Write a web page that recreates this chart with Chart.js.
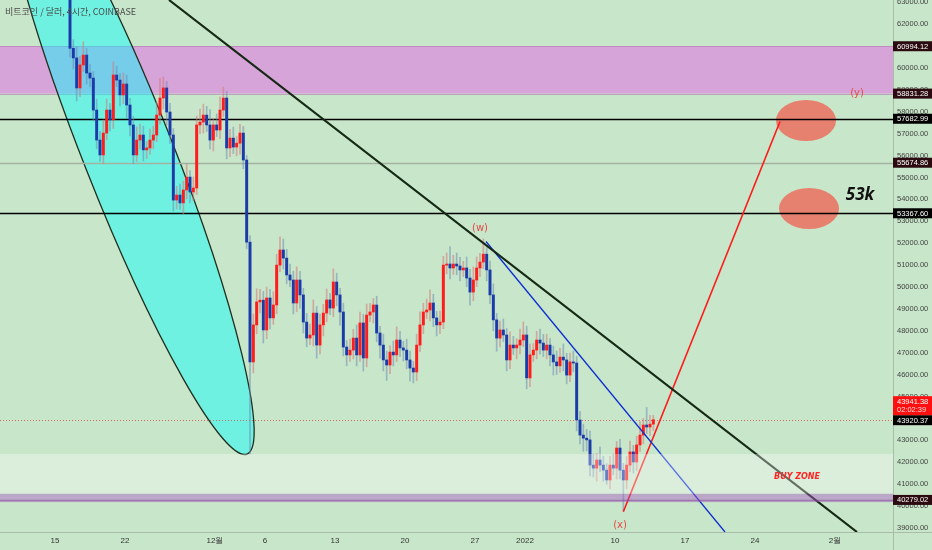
<!DOCTYPE html>
<html>
<head>
<meta charset="utf-8">
<script src="https://cdn.jsdelivr.net/npm/chart.js@4.4.1/dist/chart.umd.min.js"></script>
<style>
  html, body { margin: 0; padding: 0; background: #c8e6c9; }
  #wrap { width: 932px; height: 550px; }
</style>
</head>
<body>
<div id="wrap"><canvas id="btcChart" width="932" height="550"></canvas></div>
<script>
// 8h candles, x axis = days since 2021-11-01 00:00
var firstCandleDay = 14;      // Nov 15
var candleDays = 1 / 3;
var firstOpen = 64500;

var closes = [
  64900, 65400, 64800, 63700, 60900, 60460, 59090, 60140, 60590, 59770,
  59540, 58080, 56710, 56030, 57030, 58080, 57630, 59680, 59450, 58770,
  59270, 58310, 57400, 56030, 56710, 56940, 56260, 56350, 56710, 56940,
  57850, 58630, 59090, 57990, 56940, 53970, 54200, 53840, 54430, 55020,
  54340, 54520, 57400, 57530, 57850, 57400, 56710, 57400, 57170, 58080,
  58630, 56350, 56800, 56390, 56570, 57030, 55800, 52050, 46580, 48270,
  49320, 49400, 48040, 49500, 48590, 49180, 51000, 51690, 51320, 50550,
  50320, 49270, 50320, 49640, 48400, 47670, 47810, 48810, 47350, 48270,
  48810, 49410, 49040, 50230, 49640, 48860, 47260, 46900, 47120, 47670,
  46900, 48360, 46760, 48720, 48860, 49180, 47900, 47350, 46670, 46440,
  47030, 46900, 47580, 47220, 47120, 46670, 46300, 46120, 47350, 48270,
  48860, 48950, 49270, 48590, 48270, 48400, 51000, 51050, 50870, 51050,
  50960, 50780, 50870, 50410, 49770, 50320, 50870, 51140, 51500, 50780,
  49640, 48500, 47670, 48040, 47810, 46670, 47350, 47220, 47350, 47580,
  47810, 45850, 46900, 47120, 47580, 47440, 47120, 47350, 46900, 46580,
  46400, 46800, 46670, 45980, 46580, 46530, 43930, 43240, 43100, 43020,
  41870, 41730, 42100, 41870, 41640, 41190, 41870, 41730, 42650, 41640,
  41190, 41870, 42470, 42010, 42790, 43240, 43700, 43610, 43740, 43941.38
];
// wick lengths in hundreds of USD
var upWicks = [
  5,6,4,3,2,4,5,4,6,3, 4,3,5,4,6,5,3,6,4,3, 5,4,3,4,6,5,4,3,5,4,
  6,9,5,3,4,3,4,5,4,6, 3,5,4,6,5,4,7,3,5,6, 5,3,4,5,3,4,3,2,3,5,
  6,5,4,5,4,6,5,6,5,4, 5,4,6,4,3,4,5,6,3,5, 4,5,3,6,4,3,4,3,5,4,
  6,5,4,5,4,3,4,3,5,4, 3,5,6,4,3,5,4,3,5,6, 4,5,6,4,3,5,4,5,8,4,
  5,4,3,5,4,6,5,4,7,3, 4,5,3,4,5,3,6,4,3,5, 6,4,5,3,4,5,4,5,3,4,
  5,4,6,3,4,5,3,4,5,4, 4,5,3,6,4,3,4,5,3,4, 3,4,5,3,4,6,3,8,4,2
];
var downWicks = [
  4,5,6,5,4,5,6,4,3,5, 4,5,4,3,4,3,5,4,3,5, 4,6,5,4,3,4,5,4,3,4,
  3,4,5,6,4,5,4,3,5,4, 5,4,3,4,5,3,4,5,3,4, 3,5,4,3,4,5,4,3,42,5,
  4,5,6,4,5,3,4,3,5,4, 3,5,4,6,5,4,3,5,6,4, 5,4,3,4,5,6,4,5,3,4,
  5,3,6,4,3,5,4,6,5,7, 4,5,3,4,5,4,6,5,4,3, 4,3,5,4,5,4,3,4,5,3,
  4,5,3,4,6,4,3,4,3,5, 4,5,6,4,3,5,4,3,5,4, 3,5,4,3,4,5,3,4,5,6,
  4,3,5,4,3,4,5,4,6,5, 5,4,6,3,5,2,4,3,5,4, 14,4,3,5,4,3,4,3,4,3
];

var priceTicks = [39000, 40000, 41000, 42000, 43000, 44000, 45000, 46000, 47000, 48000,
  49000, 50000, 51000, 52000, 53000, 54000, 55000, 56000, 57000, 58000, 59000, 60000,
  61000, 62000, 63000];
var dateTickDays = [14, 21, 30, 35, 42, 49, 56, 61, 70, 77, 84, 92];
var dateTickLabels = ['15', '22', '12월', '6', '13', '20', '27', '2022', '10', '17', '24', '2월'];

var pinkZone = [58831.28, 60994.12];
var buyZone = [40560, 42375];
var supportZone = [40180, 40560];
var supportLevel = 40279.02;
var blackLevels = [57682.99, 53367.60];
var grayLevel = 55674.86;
var lastClose = 43920.37;
var lastPrice = 43941.38;

var downTrend = [{x: 25.4, y: 63105}, {x: 94.2, y: 38815}];
var wTrend = [{x: 57.1, y: 52078}, {x: 81.0, y: 38814}];
var projection = [{x: 70.83, y: 39741}, {x: 86.5, y: 57557}];
var targets = [{x: 89.1, y: 57603}, {x: 89.4, y: 53585}];
var channelCenter = {x: 21.35, y: 56073};
var channelTip = {x: 33.2, y: 42375};

var waveLabels = [
  {text: '(w)', x: 56.5, y: 52694},
  {text: '(x)', x: 70.5, y: 39097},
  {text: '(y)', x: 94.2, y: 58858}
];

var opens = closes.map(function (c, i) { return i === 0 ? firstOpen : closes[i - 1]; });
var xs = closes.map(function (c, i) { return firstCandleDay + (i + 0.5) * candleDays; });
var bodies = closes.map(function (c, i) { return {x: xs[i], y: [opens[i], c]}; });
var wicks = closes.map(function (c, i) {
  return {x: xs[i], y: [Math.min(opens[i], c) - downWicks[i] * 100, Math.max(opens[i], c) + upWicks[i] * 100]};
});
var bodyColors = closes.map(function (c, i) { return c >= opens[i] ? '#ff1c1c' : '#1b3ca8'; });
var wickColors = closes.map(function (c, i) {
  return c >= opens[i] ? 'rgba(210,120,120,0.55)' : 'rgba(110,140,180,0.55)';
});

function hline(chart, value, color, width, dash) {
  var ctx = chart.ctx, a = chart.chartArea;
  var y = Math.round(chart.scales.y.getPixelForValue(value)) + 0.5;
  ctx.save();
  ctx.strokeStyle = color;
  ctx.lineWidth = width;
  ctx.setLineDash(dash || []);
  ctx.beginPath();
  ctx.moveTo(a.left, y);
  ctx.lineTo(a.right, y);
  ctx.stroke();
  ctx.restore();
}

function band(chart, lo, hi, color) {
  var a = chart.chartArea, sy = chart.scales.y;
  var top = sy.getPixelForValue(hi), bottom = sy.getPixelForValue(lo);
  chart.ctx.fillStyle = color;
  chart.ctx.fillRect(a.left, top, a.right - a.left, bottom - top);
}

var drawings = {
  id: 'drawings',
  beforeDraw: function (chart) {
    var ctx = chart.ctx;
    ctx.save();
    ctx.fillStyle = '#c8e6c9';
    ctx.fillRect(0, 0, chart.width, chart.height);
    ctx.restore();
  },
  beforeDatasetsDraw: function (chart) {
    var ctx = chart.ctx, a = chart.chartArea, sx = chart.scales.x, sy = chart.scales.y;
    ctx.save();
    ctx.beginPath();
    ctx.rect(a.left, a.top, a.right - a.left, a.bottom - a.top);
    ctx.clip();

    band(chart, pinkZone[0], pinkZone[1], 'rgba(225,110,230,0.55)');
    hline(chart, pinkZone[1], 'rgba(170,100,170,0.5)', 1);
    hline(chart, pinkZone[0], 'rgba(170,100,170,0.5)', 1);

    // falling channel ellipse
    var cx = sx.getPixelForValue(channelCenter.x), cy = sy.getPixelForValue(channelCenter.y);
    var tx = sx.getPixelForValue(channelTip.x), ty = sy.getPixelForValue(channelTip.y);
    ctx.beginPath();
    ctx.ellipse(cx, cy, Math.hypot(tx - cx, ty - cy), 45, Math.atan2(ty - cy, tx - cx), 0, Math.PI * 2);
    ctx.fillStyle = 'rgba(0,255,255,0.45)';
    ctx.fill();
    ctx.lineWidth = 1.3;
    ctx.strokeStyle = '#1f2f1f';
    ctx.stroke();

    // target circles
    ctx.fillStyle = 'rgba(242,95,80,0.75)';
    targets.forEach(function (t) {
      ctx.beginPath();
      ctx.ellipse(sx.getPixelForValue(t.x), sy.getPixelForValue(t.y), 30, 20.5, 0, 0, Math.PI * 2);
      ctx.fill();
    });

    hline(chart, grayLevel, '#a2b3a2', 1.5);
    blackLevels.forEach(function (v) { hline(chart, v, '#000000', 1.5); });
    hline(chart, lastClose, 'rgba(220,80,80,0.8)', 1, [1, 2]);
    ctx.restore();
  },
  afterDatasetsDraw: function (chart) {
    var ctx = chart.ctx, a = chart.chartArea, sx = chart.scales.x, sy = chart.scales.y;
    ctx.save();
    ctx.beginPath();
    ctx.rect(a.left, a.top, a.right - a.left, a.bottom - a.top);
    ctx.clip();
    band(chart, buyZone[0], buyZone[1], 'rgba(255,255,255,0.33)');
    band(chart, supportZone[0], supportZone[1], 'rgba(170,90,200,0.45)');
    hline(chart, supportLevel, 'rgba(120,60,140,0.45)', 1.5);

    ctx.textAlign = 'center';
    ctx.textBaseline = 'middle';
    ctx.fillStyle = '#e84848';
    ctx.font = '10px "DejaVu Sans"';
    waveLabels.forEach(function (l) {
      ctx.fillText(l.text, sx.getPixelForValue(l.x), sy.getPixelForValue(l.y));
    });
    ctx.fillStyle = '#111';
    ctx.font = 'italic bold 17px "Open Sans"';
    ctx.fillText('53k', sx.getPixelForValue(94.5), sy.getPixelForValue(54200));
    ctx.fillStyle = '#ff2424';
    ctx.font = 'italic bold 8px "DejaVu Sans"';
    ctx.fillText('BUY ZONE', sx.getPixelForValue(88.2), sy.getPixelForValue(41325));
    ctx.restore();
  },
  afterDraw: function (chart) {
    var ctx = chart.ctx, a = chart.chartArea, sy = chart.scales.y;
    ctx.save();
    ctx.strokeStyle = '#a9bba9';
    ctx.lineWidth = 1;
    ctx.beginPath();
    ctx.moveTo(a.right + 0.5, 0);
    ctx.lineTo(a.right + 0.5, chart.height);
    ctx.moveTo(0, a.bottom + 0.5);
    ctx.lineTo(chart.width, a.bottom + 0.5);
    ctx.stroke();

    // price tags on the axis
    var tags = [
      {v: pinkZone[1], bg: '#2b0b0f'}, {v: pinkZone[0], bg: '#2b0b0f'},
      {v: blackLevels[0], bg: '#000'}, {v: grayLevel, bg: '#2b0b0f'},
      {v: blackLevels[1], bg: '#000'}, {v: lastClose, bg: '#000'},
      {v: supportLevel, bg: '#2b0b0f'}
    ];
    ctx.font = '7.5px "Liberation Sans"';
    ctx.textAlign = 'left';
    ctx.textBaseline = 'middle';
    tags.forEach(function (t) {
      var y = sy.getPixelForValue(t.v);
      ctx.fillStyle = t.bg;
      ctx.fillRect(a.right, y - 5, chart.width - a.right, 10);
      ctx.fillStyle = '#ffffff';
      ctx.fillText(t.v.toFixed(2), a.right + 4, y + 0.5);
    });
    var ly = sy.getPixelForValue(lastClose) - 5;
    ctx.fillStyle = '#ff1010';
    ctx.fillRect(a.right, ly - 19, chart.width - a.right, 19);
    ctx.fillStyle = '#ffffff';
    ctx.fillText(lastPrice.toFixed(2), a.right + 4, ly - 13.5);
    ctx.fillStyle = '#ffd8d8';
    ctx.fillText('02:02:39', a.right + 4, ly - 5);

    ctx.fillStyle = '#4a4a4a';
    ctx.font = '9px "Noto Sans CJK KR"';
    ctx.fillText('비트코인 / 달러, 4시간, COINBASE', 5, 12);
    ctx.restore();
  }
};

var ctx = document.getElementById('btcChart').getContext('2d');
var chart = new Chart(ctx, {
  type: 'bar',
  data: {
    datasets: [
      {type: 'line', data: downTrend, borderColor: '#142814', borderWidth: 2.2, pointRadius: 0, order: 0},
      {type: 'line', data: wTrend, borderColor: '#0c2ed2', borderWidth: 1.3, pointRadius: 0, order: 0},
      {type: 'line', data: projection, borderColor: '#ff1a1a', borderWidth: 1.6, pointRadius: 0, order: 0},
      {data: bodies, backgroundColor: bodyColors, barThickness: 2.3, grouped: false, minBarLength: 1, order: 1},
      {data: wicks, backgroundColor: wickColors, barThickness: 1, grouped: false, order: 2}
    ]
  },
  options: {
    responsive: false,
    animation: false,
    layout: {padding: 0, autoPadding: false},
    plugins: {legend: {display: false}, tooltip: {enabled: false}},
    scales: {
      x: {
        type: 'linear', min: 8.5, max: 97.8, offset: false,
        grid: {display: false, drawTicks: false},
        border: {display: false},
        afterBuildTicks: function (s) { s.ticks = dateTickDays.map(function (v) { return {value: v}; }); },
        afterFit: function (s) { s.height = 18; s.paddingLeft = 0; s.paddingRight = 0; },
        ticks: {
          autoSkip: false, maxRotation: 0, padding: 4, color: '#333',
          font: {size: 8, family: 'Liberation Sans'},
          callback: function (v) { return dateTickLabels[dateTickDays.indexOf(v)]; }
        }
      },
      y: {
        position: 'right', min: 38815, max: 63105,
        grid: {display: false, drawTicks: false},
        border: {display: false},
        afterBuildTicks: function (s) { s.ticks = priceTicks.map(function (v) { return {value: v}; }); },
        afterFit: function (s) { s.width = 39; s.paddingTop = 0; s.paddingBottom = 0; },
        ticks: {
          padding: 4, color: '#444',
          font: {size: 7.5, family: 'Liberation Sans'},
          callback: function (v) { return v.toFixed(2); }
        }
      }
    }
  },
  plugins: [drawings]
});
</script>
</body>
</html>
